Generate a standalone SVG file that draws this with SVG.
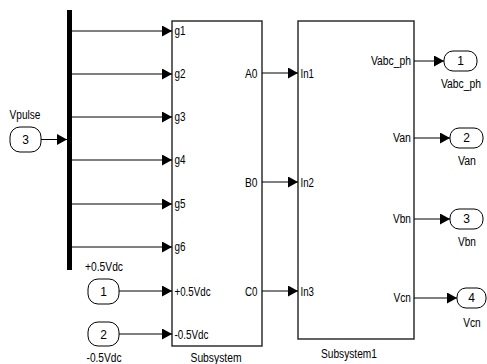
<svg xmlns="http://www.w3.org/2000/svg" width="487" height="364" viewBox="0 0 487 364">
<defs>
<marker id="ah" markerUnits="userSpaceOnUse" markerWidth="10" markerHeight="11" refX="10" refY="5.5" orient="auto">
<path d="M0,0 L10,5.5 L0,11 z" fill="#000"/>
</marker>
</defs>
<style>
text{font-family:"Liberation Sans",Arial,sans-serif;font-size:12px;fill:#000}
.c{text-anchor:middle}
.r{text-anchor:end}
.blk{fill:#fff;stroke:#222;stroke-width:1.4}
.port{fill:#fff;stroke:#000;stroke-width:1}
.sig{stroke:#000;stroke-width:1;fill:none;marker-end:url(#ah)}
</style>
<rect width="487" height="364" fill="#fff"/>

<g id="bus">
<rect x="67" y="10" width="5" height="260" fill="#000"/>
</g>

<g id="in_vpulse">
<rect class="port" x="10" y="127" width="31" height="25" rx="10" ry="10"/>
<text class="c" x="25.5" y="144">3</text>
<text class="c" x="25" y="119" textLength="31" lengthAdjust="spacingAndGlyphs">Vpulse</text>
</g>

<g id="in_pos">
<rect class="port" x="88" y="279" width="31" height="25" rx="10" ry="10"/>
<text class="c" x="103.5" y="296">1</text>
<text class="c" x="104" y="271" textLength="38" lengthAdjust="spacingAndGlyphs">+0.5Vdc</text>
</g>

<g id="in_neg">
<rect class="port" x="88" y="322" width="31" height="24" rx="10" ry="10"/>
<text class="c" x="103.5" y="339">2</text>
<text class="c" x="104" y="362" textLength="35" lengthAdjust="spacingAndGlyphs">-0.5Vdc</text>
</g>

<g id="subsystem">
<rect class="blk" x="172" y="21" width="90" height="325"/>
<text x="174.5" y="35" textLength="11" lengthAdjust="spacingAndGlyphs">g1</text>
<text x="174.5" y="78" textLength="11" lengthAdjust="spacingAndGlyphs">g2</text>
<text x="174.5" y="121" textLength="11" lengthAdjust="spacingAndGlyphs">g3</text>
<text x="174.5" y="164" textLength="11" lengthAdjust="spacingAndGlyphs">g4</text>
<text x="174.5" y="208" textLength="11" lengthAdjust="spacingAndGlyphs">g5</text>
<text x="174.5" y="251" textLength="11" lengthAdjust="spacingAndGlyphs">g6</text>
<text x="174.5" y="295.5" textLength="36" lengthAdjust="spacingAndGlyphs">+0.5Vdc</text>
<text x="174.5" y="338.5" textLength="34" lengthAdjust="spacingAndGlyphs">-0.5Vdc</text>
<text class="r" x="257.5" y="77.5" textLength="12.5" lengthAdjust="spacingAndGlyphs">A0</text>
<text class="r" x="257.5" y="186.5" textLength="12.5" lengthAdjust="spacingAndGlyphs">B0</text>
<text class="r" x="257.5" y="295.5" textLength="12.5" lengthAdjust="spacingAndGlyphs">C0</text>
<text class="c" x="216" y="362" textLength="51" lengthAdjust="spacingAndGlyphs">Subsystem</text>
</g>

<g id="subsystem1">
<rect class="blk" x="298" y="21" width="116" height="318"/>
<text x="300.5" y="77.5" textLength="13.5" lengthAdjust="spacingAndGlyphs">In1</text>
<text x="300.5" y="186.5" textLength="13.5" lengthAdjust="spacingAndGlyphs">In2</text>
<text x="300.5" y="295.5" textLength="13.5" lengthAdjust="spacingAndGlyphs">In3</text>
<text class="r" x="411" y="65" textLength="40" lengthAdjust="spacingAndGlyphs">Vabc_ph</text>
<text class="r" x="411" y="142" textLength="18" lengthAdjust="spacingAndGlyphs">Van</text>
<text class="r" x="411" y="223" textLength="18" lengthAdjust="spacingAndGlyphs">Vbn</text>
<text class="r" x="411" y="302" textLength="17.5" lengthAdjust="spacingAndGlyphs">Vcn</text>
<text class="c" x="349" y="358" textLength="56" lengthAdjust="spacingAndGlyphs">Subsystem1</text>
</g>

<g id="out1">
<rect class="port" x="444" y="51" width="33" height="20" rx="9" ry="9"/>
<text class="c" x="460.5" y="65">1</text>
<text class="c" x="461" y="88" textLength="40" lengthAdjust="spacingAndGlyphs">Vabc_ph</text>
</g>
<g id="out2">
<rect class="port" x="450" y="128" width="33" height="20" rx="9" ry="9"/>
<text class="c" x="466.5" y="142">2</text>
<text class="c" x="467" y="165" textLength="18" lengthAdjust="spacingAndGlyphs">Van</text>
</g>
<g id="out3">
<rect class="port" x="450" y="209" width="33" height="20" rx="9" ry="9"/>
<text class="c" x="466.5" y="223">3</text>
<text class="c" x="467" y="246" textLength="18" lengthAdjust="spacingAndGlyphs">Vbn</text>
</g>
<g id="out4">
<rect class="port" x="457" y="288" width="29" height="20" rx="9" ry="9"/>
<text class="c" x="471.5" y="302">4</text>
<text class="c" x="472" y="327" textLength="17.5" lengthAdjust="spacingAndGlyphs">Vcn</text>
</g>

<g id="connectors">
<line class="sig" x1="41" y1="139.5" x2="67" y2="139.5"/>
<line class="sig" x1="72" y1="31" x2="172" y2="31"/>
<line class="sig" x1="72" y1="74" x2="172" y2="74"/>
<line class="sig" x1="72" y1="117" x2="172" y2="117"/>
<line class="sig" x1="72" y1="160" x2="172" y2="160"/>
<line class="sig" x1="72" y1="204" x2="172" y2="204"/>
<line class="sig" x1="72" y1="247" x2="172" y2="247"/>
<line class="sig" x1="119" y1="291" x2="172" y2="291"/>
<line class="sig" x1="119" y1="334" x2="172" y2="334"/>
<line class="sig" x1="262" y1="73" x2="298" y2="73"/>
<line class="sig" x1="262" y1="182" x2="298" y2="182"/>
<line class="sig" x1="262" y1="291" x2="298" y2="291"/>
<line class="sig" x1="414" y1="61" x2="444" y2="61"/>
<line class="sig" x1="414" y1="138" x2="450" y2="138"/>
<line class="sig" x1="414" y1="219" x2="450" y2="219"/>
<line class="sig" x1="414" y1="298" x2="457" y2="298"/>
</g>
</svg>
